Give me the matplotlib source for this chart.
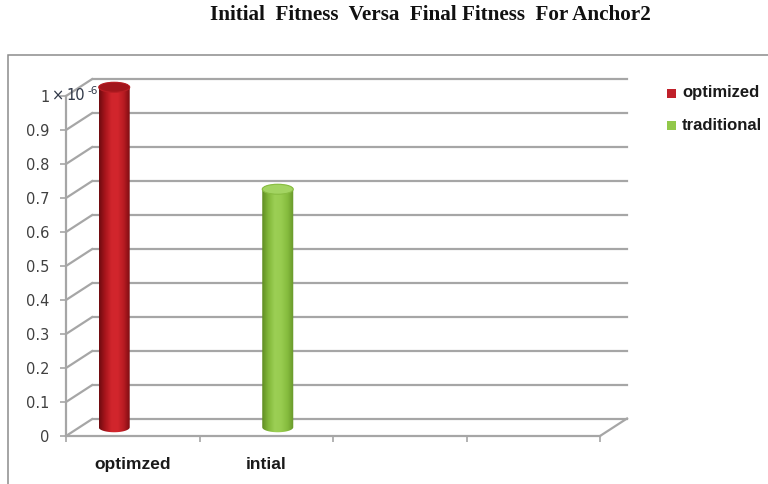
import numpy as np
import matplotlib
matplotlib.use("Agg")
import matplotlib.pyplot as plt
from matplotlib.patches import Ellipse, Polygon, Rectangle
from matplotlib.colors import LinearSegmentedColormap

# ---- data ----
title = "Initial  Fitness  Versa  Final Fitness  For Anchor2"
categories = ["optimzed", "intial"]
series_names = ["optimized", "traditional"]
series_values = [1.0e-6, 0.7e-6]          # one column per series
series_category = [0, 1]                   # category index each column sits in
ytick_values = [i * 0.1e-6 for i in range(11)]
ytick_labels = ["0", "0.1", "0.2", "0.3", "0.4", "0.5", "0.6", "0.7", "0.8", "0.9", "1"]
n_slots = 4

# ---- styling ----
W, H = 768, 484
fig = plt.figure(figsize=(W / 100, H / 100), dpi=100)
fig.patch.set_facecolor("white")

px_left, px_right = 66, 600
px_bottom, px_top = 436, 96
ax = fig.add_axes([px_left / W, 1 - px_bottom / H,
                   (px_right - px_left) / W, (px_bottom - px_top) / H])
ax.set_xlim(0, n_slots)
ax.set_ylim(0, 1e-6)
ax.set_facecolor("none")

cat_px = (px_right - px_left) / n_slots
val_px = (px_bottom - px_top) / 1e-6
DX = 27 / cat_px            # depth offset (category units)
DY = 17.5 / val_px          # depth offset (value units)

grid_c = "#A6A6A6"
text_c = "#404040"

# frame around the chart
fig.add_artist(Rectangle((8 / W, -0.1), 1.2, 1 - 55 / H + 0.1, transform=fig.transFigure,
                         fill=False, edgecolor="#8C8C8C", lw=1.1))

# spines / ticks
for s in ["top", "right"]:
    ax.spines[s].set_visible(False)
for s in ["left", "bottom"]:
    ax.spines[s].set_color(grid_c)
    ax.spines[s].set_linewidth(1.6)
ax.set_yticks(ytick_values)
ax.set_yticklabels(ytick_labels, fontsize=10.5, color=text_c, family="DejaVu Sans")
ax.tick_params(axis="y", direction="out", length=4.5, width=1.2, color=grid_c, pad=7.5)
ax.set_xticks(range(n_slots + 1))
ax.set_xticklabels([])
ax.tick_params(axis="x", which="major", direction="out", length=4, width=1.2, color=grid_c)
ax.set_xticks([i + 0.5 for i in range(len(categories))], minor=True)
ax.set_xticklabels(categories, minor=True, fontsize=12.5, fontweight="bold",
                   color="#1a1a1a", family="Liberation Sans")
ax.tick_params(axis="x", which="minor", length=0, pad=15)

# back wall gridlines and side connectors
for v in ytick_values:
    ax.plot([0, DX], [v, v + DY], color=grid_c, lw=1.6, clip_on=False, zorder=1,
            solid_capstyle="butt")
    ax.plot([DX, n_slots + DX], [v + DY, v + DY], color=grid_c, lw=1.6, clip_on=False,
            zorder=1)
ax.plot([n_slots, n_slots + DX], [0, DY], color=grid_c, lw=1.6, clip_on=False, zorder=1)

# offset exponent next to the top tick label
fig.text(52 / W, 1 - 96 / H, "×", fontsize=10.5, color="#303848",
         family="DejaVu Sans", va="center", ha="left")
fig.text(66 / W, 1 - 96 / H, "10", fontsize=10.5, color="#303848",
         family="DejaVu Sans", va="center", ha="left")
fig.text(87 / W, 1 - 91 / H, "-6", fontsize=7.5, color="#303848",
         family="DejaVu Sans", va="center", ha="left")

# ---- cylinders ----
slot_offset = [0.26, 0.485]
bar_w = 31 / cat_px
ell_h = 10 / val_px

palettes = [
    {"body": ["#6E0B10", "#A8151C", "#D0252C", "#D2262D", "#B81B22", "#7E0D12"],
     "top": "#A2161C", "rim": "#B81E24"},
    {"body": ["#5F8C22", "#82B83A", "#9CCF55", "#98CC50", "#86BC3E", "#66962A"],
     "top": "#A3D462", "rim": "#88BC42"},
]

for i, (name, val, cat) in enumerate(zip(series_names, series_values, series_category)):
    pal = palettes[i]
    xc = cat + slot_offset[i] + DX / 2
    y0 = DY / 2
    y1 = val + DY / 2
    t_bot = np.linspace(np.pi, 2 * np.pi, 60)
    t_top = np.linspace(0, np.pi, 60)
    bottom = np.column_stack([xc + bar_w / 2 * np.cos(t_bot), y0 + ell_h / 2 * np.sin(t_bot)])
    top = np.column_stack([xc + bar_w / 2 * np.cos(t_top), y1 + ell_h / 2 * np.sin(t_top)])
    outline = np.vstack([bottom, top])
    clip = Polygon(outline, closed=True, transform=ax.transData, facecolor="none",
                   edgecolor="none")
    ax.add_patch(clip)
    cmap = LinearSegmentedColormap.from_list(f"cyl{i}", pal["body"])
    grad = np.linspace(0, 1, 256)[None, :]
    im = ax.imshow(grad, cmap=cmap, aspect="auto", interpolation="bilinear",
                   extent=[xc - bar_w / 2, xc + bar_w / 2, y0 - ell_h, y1 + ell_h],
                   zorder=3)
    im.set_clip_path(clip)
    im.set_clip_box(fig.bbox)
    ax.add_patch(Ellipse((xc, y1), bar_w, ell_h, facecolor=pal["top"],
                         edgecolor=pal["rim"], lw=0.8, zorder=4, clip_on=False))

ax.set_xlim(0, n_slots)
ax.set_ylim(0, 1e-6)

# ---- legend ----
legend_y = [93, 125]
legend_colors = ["#C0202A", "#92C84A"]
for name, yy, col in zip(series_names, legend_y, legend_colors):
    fig.add_artist(Rectangle((667 / W, 1 - (yy + 5) / H), 9 / W, 9 / H,
                             transform=fig.transFigure, facecolor=col, edgecolor="none"))
    fig.text(682 / W, 1 - yy / H, name, fontsize=12, fontweight="bold", color="#1a1a1a",
             family="Liberation Sans", va="center", ha="left")

# ---- title ----
fig.text(430 / W, 1 - 15 / H, title, fontsize=15.2, fontweight="bold",
         family="Liberation Serif", ha="center", va="center", color="#111111")

fig.savefig("out.png", dpi=100)
